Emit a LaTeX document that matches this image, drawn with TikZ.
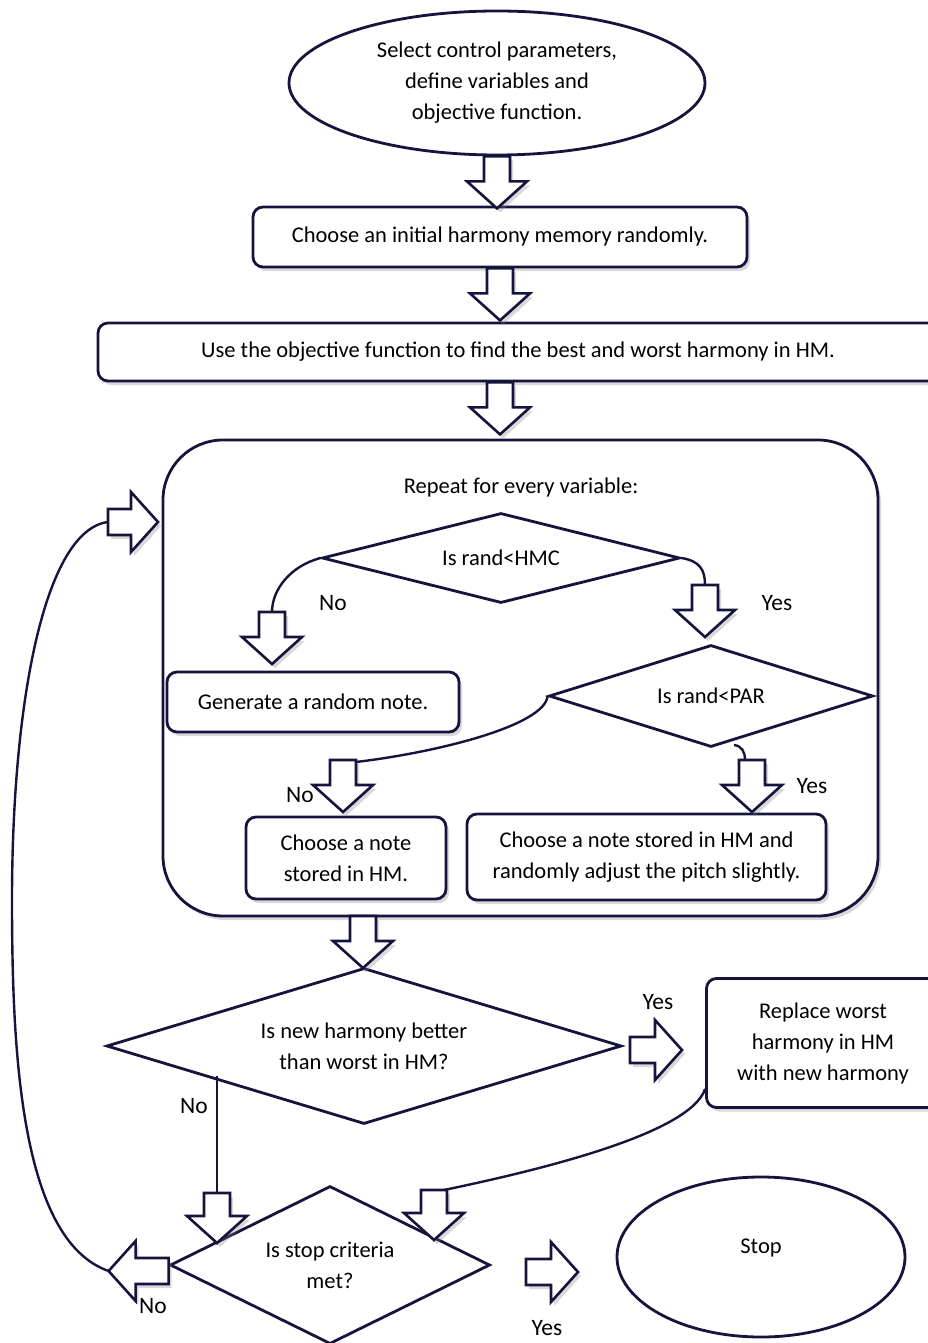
\documentclass[tikz,border=0pt]{standalone}
\usepackage{fontspec}
\setmainfont{Carlito}
\usetikzlibrary{shapes.geometric,shadows,calc}
\definecolor{ink}{RGB}{22,20,60}

\begin{document}
\begin{tikzpicture}[x=1pt,y=-1pt,
  every node/.style={font=\fontsize{22.5}{31}\selectfont, text=black},
  shape line/.style={draw=ink, line width=2.8pt},
  soft shadow/.style={drop shadow={shadow xshift=3pt, shadow yshift=-4pt, opacity=0.3}},
  box/.style={shape line, rounded corners=10pt, fill=white, soft shadow, inner sep=0pt, align=center},
  decision/.style={shape line, diamond, inner sep=0pt, align=center, fill=white},
  oval/.style={shape line, ellipse, inner sep=0pt, align=center, fill=white},
  link/.style={draw=ink, line width=2.4pt},
  tag/.style={font=\fontsize{23.5}{26}\selectfont},
  pics/barrow/.style={code={
    \draw[draw=ink, line width=2.6pt, fill=white, line join=miter, soft shadow]
      (-13,0) -- (-13,#1-27) -- (-30,#1-27) -- (0,#1) -- (30,#1-27) -- (13,#1-27) -- (13,0) -- cycle;}},
  pics/barrow/.default=52]

\useasboundingbox (0,0) rectangle (928,1343);

% start and set-up steps
\node[oval, minimum width=416, minimum height=144] (sel) at (497,83)
  {Select control parameters,\\define variables and\\objective function.};
\node[box, minimum width=494, minimum height=60] (init) at (500,237)
  {Choose an initial harmony memory randomly.};
\node[box, minimum width=840, minimum height=58] (best) at (518,352)
  {Use the objective function to find the best and worst harmony in HM.};

\pic at (sel.south) {barrow};
\pic at (init.south) {barrow};
\pic at (init.south |- best.south) {barrow};

% improvisation loop over all variables
\node[box, rounded corners=60pt, minimum width=715, minimum height=476] (loop) at (520.5,678) {};
\node (looptitle) at (521,487) {Repeat for every variable:};

\node[decision, aspect=4, minimum width=358, minimum height=90] (hmc) at (501,558) {Is rand<HMC};
\node[box, minimum width=292, minimum height=60] (rnd) at (313,702) {Generate a random note.};
\node[decision, aspect=3.2, minimum width=324, minimum height=102] (par) at (711,696) {Is rand<PAR};
\node[box, minimum width=200, minimum height=82] (note) at (346,858) {Choose a note\\stored in HM.};
\node[box, minimum width=359, minimum height=86] (adj) at (646.5,857)
  {Choose a note stored in HM and\\randomly adjust the pitch slightly.};

\coordinate (hmcno) at (272,612);
\coordinate (hmcyes) at (705,585);
\coordinate (parno) at (343,760);
\coordinate (paryes) at (752,760);

\draw[link] (hmc.west) .. controls (290,566) and (272,590) .. (hmcno);
\draw[link] (hmc.east) .. controls (700,561) and (705,570) .. (hmcyes);
\draw[link] (par.west) .. controls (545,725) and (440,752) .. ($(parno)+(13,2)$);
\draw[link] (734,745) .. controls (742,746) and (745,752) .. ($(paryes)+(-7,0)$);

\pic at (hmcno) {barrow};
\pic at (hmcyes) {barrow};
\pic at (parno) {barrow};
\pic at (paryes) {barrow};

\node[tag] (lno1) at (333,603) {No};
\node[tag] (lyes1) at (777,603) {Yes};
\node[tag] (lno2) at (300,795) {No};
\node[tag] (lyes2) at (812,786) {Yes};

% acceptance test and termination
\node[decision, aspect=3.3, minimum width=515, minimum height=156] (better) at (364,1046)
  {Is new harmony better\\than worst in HM?};
\node[box, minimum width=233, minimum height=129] (repl) at (823,1043)
  {Replace worst\\harmony in HM\\with new harmony};
\node[decision, aspect=2, minimum width=320, minimum height=158] (stopq) at (330,1265)
  {Is stop criteria\\met?};
\node[oval, minimum width=288, minimum height=160] (stop) at (761,1257) {};
\node (stoptxt) at ($(stop.center)+(0,-9)$) {Stop};

\coordinate (loopout) at (363,916);
\coordinate (betteryes) at (630,1050);
\coordinate (betterno) at (217,1193);
\coordinate (replback) at (434,1190);
\coordinate (stopyes) at (526,1272);
\coordinate (loopin) at (108,522);

\pic at (loopout) {barrow};
\pic[rotate=90] at (betteryes) {barrow};
\draw[draw=ink, line width=2pt] (217,1076) -- (betterno);
\pic at (betterno) {barrow=50};
\draw[link] (repl.south west) ++(0,-20) .. controls (690,1135) and (530,1172) .. ($(replback)+(10,0)$);
\pic at (replback) {barrow=50};
\pic[rotate=-90] at ($(stopq.west)+(0,6)$) {barrow=60};
\pic[rotate=90] at (stopyes) {barrow};
\draw[link] ($(stopq.west)+(-60,6)$) .. controls (20,1240) and (12,1050) .. (12,900)
  .. controls (12,700) and (45,530) .. (loopin);
\pic[rotate=90] at (loopin) {barrow=50};

\node[tag] (lyes3) at (658,1002) {Yes};
\node[tag] (lno3) at (194,1106) {No};
\node[tag] (lno4) at (153,1306) {No};
\node[tag] (lyes4) at (547,1328) {Yes};

\end{tikzpicture}
\end{document}
